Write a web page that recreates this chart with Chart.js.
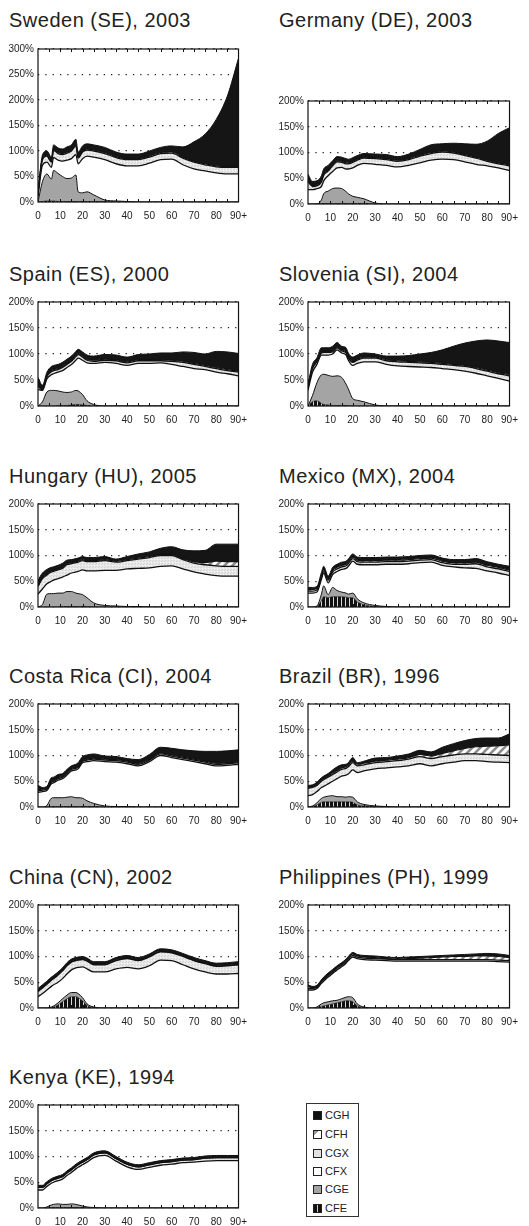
<!DOCTYPE html>
<html>
<head>
<meta charset="utf-8">
<script src="https://cdn.jsdelivr.net/npm/chart.js@4.4.1/dist/chart.umd.min.js"></script>
<style>
  body { margin: 0; background: #fff; width: 529px; height: 1226px; position: relative; overflow: hidden;
         font-family: "Liberation Sans", Arial, sans-serif; color: #222; }
  .t { position: absolute; font-size: 20px; letter-spacing: 0.5px; line-height: 1; white-space: nowrap; }
  .p { position: absolute; }
  #leg { position: absolute; left: 306px; top: 1103px; width: 51px; height: 112px; border: 1px solid #333; }
  #leg div { position: absolute; left: 6px; font-size: 11px; line-height: 12px; }
  #leg span { display: inline-block; width: 7px; height: 7px; border: 1px solid #222; margin-right: 3px; vertical-align: -1px; }
</style>
</head>
<body>
<div id="leg">
  <div style="top:5px"><span style="background:#111"></span>CGH</div>
  <div style="top:24px"><span style="background:linear-gradient(135deg,#999 35%,#fff 35%)"></span>CFH</div>
  <div style="top:43px"><span style="background:#e2e2e2"></span>CGX</div>
  <div style="top:61px"><span style="background:#fff"></span>CFX</div>
  <div style="top:79px"><span style="background:#a4a4a4"></span>CGE</div>
  <div style="top:98px"><span style="background:repeating-linear-gradient(90deg,#111 0 3px,#ccc 3px 4px)"></span>CFE</div>
</div>
<script>
// ages shared by every panel (90 = 90+)
const ages = [0,2,4,6,7,9,11,13,15,17,18,20,22,25,30,35,40,45,50,55,60,65,70,75,80,85,90];

// cumulative levels (stack tops), % of average adult consumption
const SE = {
  cfe: [0,1,2,2,2,1,1,1,1,1,1,1,1,1,1,0,0,0,0,0,0,0,0,0,0,0,0],
  cge: [0,40,55,45,62,56,50,46,47,53,20,18,20,14,4,2,1,0,0,0,0,0,0,0,0,0,0],
  cfx: [10,72,78,68,87,82,80,82,85,93,75,85,90,88,83,75,71,71,76,83,84,73,65,61,57,55,55],
  cgx: [17,83,90,78,101,95,93,96,100,110,86,98,102,100,95,87,83,83,88,95,96,86,78,73,69,68,68],
  cfh: [18,85,92,80,103,97,95,98,102,112,88,100,104,102,97,89,85,85,90,97,98,88,80,75,71,70,70],
  cgh: [20,92,100,88,112,106,104,108,112,123,98,110,114,112,107,98,94,94,100,107,110,108,118,133,162,208,282]
};
const DE = {
  cfe: [0,0,0,1,1,1,1,1,1,1,1,1,1,1,0,0,0,0,0,0,0,0,0,0,0,0,0],
  cge: [0,0,0,8,20,25,30,31,30,24,20,15,13,10,2,0,0,0,0,0,0,0,0,0,0,0,0],
  cfx: [28,28,30,34,45,55,63,70,71,68,68,70,75,79,77,75,72,75,80,85,87,86,82,77,74,70,65],
  cgx: [43,34,35,43,56,64,74,82,81,78,78,81,85,89,88,86,83,86,93,98,101,99,94,89,83,78,74],
  cfh: [45,36,37,45,58,66,76,84,83,80,80,83,87,91,90,88,85,88,95,100,103,101,96,91,85,80,76],
  cgh: [58,44,45,55,68,75,84,92,91,88,87,90,94,98,97,96,92,97,106,115,117,118,117,116,122,137,148]
};
const ES = {
  cfe: [0,0,0,0,0,1,1,1,2,3,3,2,1,0,0,0,0,0,0,0,0,0,0,0,0,0,0],
  cge: [0,8,27,30,30,29,27,26,27,30,29,22,10,3,0,0,0,0,0,0,0,0,0,0,0,0,0],
  cfx: [32,30,52,60,62,65,68,74,80,88,92,88,83,82,84,82,78,82,82,83,80,76,72,70,65,62,58],
  cgx: [38,31,56,66,68,70,74,80,86,95,99,94,88,86,88,87,83,87,87,87,86,84,80,76,72,68,65],
  cfh: [40,33,58,68,70,72,76,82,88,97,101,96,90,88,90,89,85,89,89,89,88,86,82,78,74,70,67],
  cgh: [55,40,65,76,78,80,84,90,96,105,109,104,98,96,99,98,94,99,100,102,102,104,103,100,105,104,101]
};
const SI = {
  cfe: [0,8,10,5,3,2,1,1,1,1,1,0,0,0,0,0,0,0,0,0,0,0,0,0,0,0,0],
  cge: [0,20,45,60,61,59,57,58,55,42,33,14,11,8,2,0,0,0,0,0,0,0,0,0,0,0,0],
  cfx: [30,65,80,98,98,98,100,108,102,98,88,78,82,85,85,80,77,76,75,74,72,70,67,63,58,53,48],
  cgx: [35,72,85,102,103,103,104,112,106,102,92,84,88,92,92,87,85,84,83,82,80,78,76,72,67,62,58],
  cfh: [37,74,87,104,105,105,106,114,108,104,94,86,90,94,94,89,87,86,85,84,82,80,78,74,69,64,61],
  cgh: [42,80,93,112,112,112,115,122,115,112,102,94,98,102,100,96,96,97,100,103,108,115,121,125,127,125,122]
};
const HU = {
  cfe: [0,0,0,0,0,0,1,1,1,1,1,1,1,0,0,0,0,0,0,0,0,0,0,0,0,0,0],
  cge: [0,5,25,26,26,27,27,30,30,27,26,24,18,8,3,2,1,1,0,0,0,0,0,0,0,0,0],
  cfx: [25,35,45,50,52,55,58,62,66,68,69,72,70,70,71,71,74,75,76,79,80,74,68,64,61,60,60],
  cgx: [40,55,62,68,69,72,75,82,84,86,87,90,88,88,90,87,90,93,96,100,100,92,85,82,80,79,79],
  cfh: [42,57,64,70,71,74,77,84,86,88,89,92,90,90,92,89,92,95,98,102,102,94,88,86,89,88,88],
  cgh: [52,66,73,77,78,81,85,91,92,94,95,98,96,96,98,93,98,103,107,114,117,111,109,110,122,122,122]
};
const MX = {
  cfe: [0,0,1,12,20,18,20,20,20,19,18,18,10,4,1,0,0,0,0,0,0,0,0,0,0,0,0],
  cge: [0,0,2,25,41,24,38,32,29,27,25,27,16,8,3,1,0,0,0,0,0,0,0,0,0,0,0],
  cfx: [27,27,29,54,66,47,63,69,73,75,79,89,83,82,82,83,83,84,86,87,81,78,76,75,70,66,61],
  cgx: [31,31,33,58,70,52,68,74,78,80,84,94,88,87,87,88,88,89,91,92,86,83,83,84,78,74,69],
  cfh: [34,34,36,61,73,55,71,77,81,83,87,97,91,90,90,91,91,92,94,95,89,86,86,87,81,77,72],
  cgh: [38,38,40,67,79,60,77,83,87,89,93,103,97,96,96,97,97,98,100,101,95,92,92,94,88,83,79]
};
const CI = {
  cfe: [0,0,0,1,1,1,1,1,1,1,1,1,1,1,0,0,0,0,0,0,0,0,0,0,0,0,0],
  cge: [0,0,3,17,18,18,18,19,20,18,18,17,12,7,2,1,1,0,0,0,0,0,0,0,0,0,0],
  cfx: [28,30,32,45,47,52,55,62,70,72,74,86,88,90,88,87,84,80,88,100,96,92,88,84,80,81,83],
  cgx: [31,33,35,48,50,55,58,65,73,75,77,89,91,93,91,90,87,83,91,103,99,95,91,87,83,84,86],
  cfh: [33,35,37,50,52,57,60,67,75,77,79,91,93,95,93,92,89,85,93,105,101,97,93,89,85,86,88],
  cgh: [42,38,40,57,58,63,65,73,80,83,86,98,101,103,99,98,94,92,102,116,114,111,109,108,108,109,111]
};
const BR = {
  cfe: [0,1,4,9,10,10,10,10,10,10,10,9,4,2,1,0,0,0,0,0,0,0,0,0,0,0,0],
  cge: [0,2,8,17,19,21,22,20,20,19,20,19,10,5,2,1,0,0,0,0,0,0,0,0,0,0,0],
  cfx: [22,24,30,38,40,45,50,55,60,62,64,72,67,70,74,76,78,80,84,80,84,87,90,90,88,87,86],
  cgx: [36,38,42,50,53,58,63,68,73,75,78,86,80,82,86,88,90,93,98,94,98,101,103,103,102,101,100],
  cfh: [38,40,44,52,55,60,66,71,76,78,81,89,83,85,89,91,93,96,102,99,104,109,114,117,118,119,121],
  cgh: [42,43,48,57,60,65,72,78,82,83,86,96,86,89,95,96,99,103,110,107,116,123,129,133,134,134,142]
};
const CN = {
  cfe: [0,0,0,1,2,6,12,18,22,22,20,14,5,1,0,0,0,0,0,0,0,0,0,0,0,0,0],
  cge: [0,0,0,2,4,10,18,25,30,30,28,20,8,2,0,0,0,0,0,0,0,0,0,0,0,0,0],
  cfx: [22,28,35,42,45,50,57,66,74,78,79,80,76,70,70,76,79,76,82,93,92,84,76,70,66,66,67],
  cgx: [32,39,46,54,57,64,72,82,89,92,93,94,91,84,84,92,96,92,99,109,107,100,92,86,81,82,84],
  cfh: [33,40,47,55,58,65,73,83,90,93,94,95,92,85,85,93,97,93,100,110,108,101,93,87,82,83,85],
  cgh: [38,45,52,60,63,70,78,88,95,98,99,100,97,90,90,98,102,98,105,115,113,106,98,92,87,88,90]
};
const PH = {
  cfe: [0,0,0,3,4,6,8,10,12,14,14,12,4,1,0,0,0,0,0,0,0,0,0,0,0,0,0],
  cge: [0,0,2,8,10,12,14,15,18,21,22,20,8,2,0,0,0,0,0,0,0,0,0,0,0,0,0],
  cfx: [35,35,38,48,52,60,67,74,80,87,92,99,96,94,93,92,91,91,91,91,91,91,91,91,91,90,89],
  cgx: [38,38,41,51,55,63,70,77,83,90,95,102,99,97,96,95,94,94,94,94,94,94,94,94,94,93,92],
  cfh: [42,39,41,52,57,65,72,79,85,92,97,105,101,99,98,96,95,96,97,98,99,100,100,101,101,100,98],
  cgh: [45,42,44,55,60,68,75,82,88,95,100,108,104,102,101,99,98,99,100,101,102,103,104,105,106,105,102]
};
const KE = {
  cfe: [0,0,0,1,1,1,1,1,1,1,1,1,0,0,0,0,0,0,0,0,0,0,0,0,0,0,0],
  cge: [0,0,2,6,7,8,7,7,8,7,6,4,2,1,0,0,0,0,0,0,0,0,0,0,0,0,0],
  cfx: [35,35,42,48,50,53,56,63,69,76,79,84,89,98,102,91,80,75,79,83,85,88,89,91,92,92,92],
  cgx: [40,40,47,53,55,58,61,68,74,81,84,89,94,103,107,96,85,80,84,88,90,93,94,97,98,98,98],
  cfh: [40,40,47,53,55,58,61,68,74,81,84,89,94,103,107,96,85,80,84,88,90,93,94,97,98,98,98],
  cgh: [44,44,51,57,59,62,65,72,78,85,88,93,98,107,111,100,89,84,88,92,94,97,98,101,102,102,102]
};

const panels = [
  { d: SE, title: 'Sweden (SE), 2003',      col: 0, top: 47,   bottom: 202,  ymax: 300, ty: 21 },
  { d: DE, title: 'Germany (DE), 2003',     col: 1, top: 99,   bottom: 204,  ymax: 200, ty: 21 },
  { d: ES, title: 'Spain (ES), 2000',       col: 0, top: 300,  bottom: 406,  ymax: 200 },
  { d: SI, title: 'Slovenia (SI), 2004',    col: 1, top: 300,  bottom: 406,  ymax: 200 },
  { d: HU, title: 'Hungary (HU), 2005',     col: 0, top: 502,  bottom: 607,  ymax: 200 },
  { d: MX, title: 'Mexico (MX), 2004',      col: 1, top: 502,  bottom: 607,  ymax: 200 },
  { d: CI, title: 'Costa Rica (CI), 2004',  col: 0, top: 702,  bottom: 807,  ymax: 200 },
  { d: BR, title: 'Brazil (BR), 1996',      col: 1, top: 702,  bottom: 807,  ymax: 200 },
  { d: CN, title: 'China (CN), 2002',       col: 0, top: 903,  bottom: 1008, ymax: 200 },
  { d: PH, title: 'Philippines (PH), 1999', col: 1, top: 903,  bottom: 1008, ymax: 200 },
  { d: KE, title: 'Kenya (KE), 1994',       col: 0, top: 1103, bottom: 1208, ymax: 200 }
];
const colLeft = [38, 308], colRight = [241, 512], titleLeft = [9, 279];

function pattern(w, h, paint) {
  const c = document.createElement('canvas');
  c.width = w; c.height = h;
  paint(c.getContext('2d'));
  return c.getContext('2d').createPattern(c, 'repeat');
}
const hatch = pattern(8, 8, g => {
  g.fillStyle = '#fff'; g.fillRect(0, 0, 8, 8);
  g.strokeStyle = '#8c8c8c'; g.lineWidth = 2.5;
  g.beginPath(); g.moveTo(-2, 10); g.lineTo(10, -2); g.moveTo(-2, 2); g.lineTo(2, -2); g.moveTo(6, 10); g.lineTo(10, 6); g.stroke();
});
const speckle = pattern(3, 3, g => {
  g.fillStyle = '#e8e8e8'; g.fillRect(0, 0, 3, 3);
  g.fillStyle = '#d2d2d2'; g.fillRect(0, 0, 1, 1); g.fillRect(2, 1, 1, 1);
  g.fillStyle = '#f6f6f6'; g.fillRect(1, 2, 1, 1);
});
const stripes = pattern(4, 4, g => {
  g.fillStyle = '#111'; g.fillRect(0, 0, 3, 4);
  g.fillStyle = '#d8d8d8'; g.fillRect(3, 0, 1, 4);
});

const layers = [
  { key: 'cfe', bg: stripes, bw: 0.6 },
  { key: 'cge', bg: '#a4a4a4', bw: 1 },
  { key: 'cfx', bg: '#ffffff', bw: 1.3 },
  { key: 'cgx', bg: speckle, bw: 1.3 },
  { key: 'cfh', bg: hatch, bw: 1.2 },
  { key: 'cgh', bg: '#151515', bw: 1 }
];

const frame = {
  id: 'frame',
  afterDatasetsDraw(chart) {
    const { ctx, chartArea: a, scales: { x } } = chart;
    ctx.save();
    ctx.strokeStyle = '#111';
    ctx.lineWidth = 1.2;
    ctx.strokeRect(a.left, a.top, a.right - a.left, a.bottom - a.top);
    ctx.lineWidth = 1;
    ctx.beginPath();
    for (let v = 5; v < 90; v += 5) {
      const px = Math.round(x.getPixelForValue(v)) + 0.5;
      ctx.moveTo(px, a.top); ctx.lineTo(px, a.top + 3);
      ctx.moveTo(px, a.bottom); ctx.lineTo(px, a.bottom - 3);
    }
    ctx.stroke();
    ctx.restore();
  }
};

panels.forEach(p => {
  const L = colLeft[p.col], R = colRight[p.col];
  const t = document.createElement('div');
  t.className = 't';
  t.textContent = p.title;
  t.style.left = titleLeft[p.col] + 'px';
  t.style.top = ((p.ty || p.top - 25) - 11) + 'px';
  document.body.appendChild(t);

  const box = document.createElement('div');
  box.className = 'p';
  box.style.left = (L - 38) + 'px';
  box.style.top = (p.top - 8) + 'px';
  const cv = document.createElement('canvas');
  cv.width = R - L + 38 + 14;
  cv.height = p.bottom - p.top + 8 + 24;
  box.appendChild(cv);
  document.body.appendChild(box);

  new Chart(cv, {
    type: 'line',
    data: {
      datasets: layers.map((l, i) => ({
        label: l.key.toUpperCase(),
        data: ages.map((a, j) => ({ x: a, y: p.d[l.key][j] })),
        backgroundColor: l.bg,
        borderColor: '#111',
        borderWidth: l.bw,
        fill: i === 0 ? 'origin' : '-1',
        pointRadius: 0,
        cubicInterpolationMode: 'monotone'
      }))
    },
    options: {
      responsive: false,
      animation: false,
      devicePixelRatio: 1,
      layout: { padding: { left: 0, top: 8, right: 14, bottom: 0 } },
      plugins: {
        legend: { display: false },
        tooltip: { enabled: false },
        filler: { drawTime: 'beforeDatasetsDraw' }
      },
      scales: {
        x: {
          type: 'linear', min: 0, max: 90,
          afterFit: s => { s.height = 24; },
          grid: { display: false, drawTicks: false },
          border: { display: false },
          ticks: {
            stepSize: 10, padding: 8, maxRotation: 0, color: '#222',
            font: { family: '"Liberation Sans", Arial, sans-serif', size: 10 },
            callback: v => v === 90 ? '90+' : v
          }
        },
        y: {
          min: 0, max: p.ymax,
          afterFit: s => { s.width = 38; },
          grid: { color: '#222', lineWidth: 1.3, drawTicks: false },
          border: { display: false, dash: [1.3, 6] },
          ticks: {
            stepSize: 50, padding: 4, color: '#222',
            font: { family: '"Liberation Sans", Arial, sans-serif', size: 10 },
            callback: v => v + '%'
          }
        }
      }
    },
    plugins: [frame]
  });
});
</script>
</body>
</html>
